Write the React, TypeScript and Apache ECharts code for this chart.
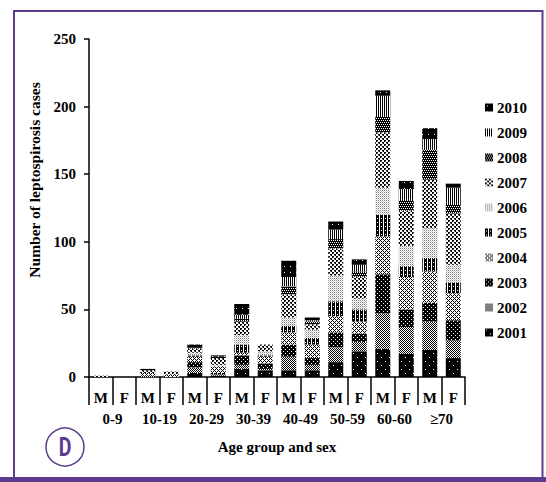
import React, { useEffect, useRef } from "react";
import * as echarts from "echarts";

const sexLabels = ["M", "F", "M", "F", "M", "F", "M", "F", "M", "F", "M", "F", "M", "F", "M", "F"];
const ageGroups = ["0-9", "10-19", "20-29", "30-39", "40-49", "50-59", "60-60", "≥70"];
const years = ["2001", "2002", "2003", "2004", "2005", "2006", "2007", "2008", "2009", "2010"];

const y2001 = [0, 0, 0, 0, 3, 1, 6, 5, 5, 5, 11, 19, 21, 17, 20, 14];
const y2002 = [0, 0, 1, 0, 4, 1, 3, 1, 10, 4, 11, 7, 26, 20, 21, 13];
const y2003 = [0, 0, 0, 0, 4, 1, 7, 4, 9, 5, 11, 6, 29, 13, 14, 15];
const y2004 = [0, 0, 2, 2, 4, 5, 2, 5, 9, 10, 12, 9, 28, 24, 23, 20];
const y2005 = [0, 0, 0, 0, 1, 0, 6, 1, 5, 5, 11, 9, 16, 8, 10, 8];
const y2006 = [0, 0, 0, 0, 2, 1, 7, 3, 6, 6, 19, 8, 20, 15, 22, 13];
const y2007 = [1, 0, 2, 2, 3, 5, 10, 5, 17, 4, 20, 16, 41, 26, 36, 38];
const y2008 = [0, 0, 0, 0, 1, 1, 2, 0, 6, 2, 7, 4, 12, 8, 22, 7];
const y2009 = [0, 0, 0, 0, 0, 0, 3, 0, 7, 1, 7, 5, 15, 8, 8, 12];
const y2010 = [0, 0, 1, 0, 2, 1, 8, 0, 12, 2, 6, 4, 4, 6, 8, 3];

const yearValues = [y2001, y2002, y2003, y2004, y2005, y2006, y2007, y2008, y2009, y2010];

const yTicks = { min: 0, max: 250, interval: 50 };

const tiles: string[][] = [
  ["########", "#.######", "########", "########", "########", "#####.##", "########", "########"],
  ["#.#.", ".#.#", "#.#.", ".#.#"],
  ["####", "#.##", "####", "###."],
  ["#...", ".#.#", "..#.", ".#.#"],
  ["###.", "###.", "#.#.", "###."],
  ["g.g.", ".l.l", "g.g.", ".l.l"],
  ["##..", "#g..", "..##", "..g#"],
  ["#.#.", "####", ".#.#", "####"],
  ["#.", "#."],
  ["######", "######", "##.###", "######", "######", "######"],
];

const PURPLE = "#5c3a8d";
const SERIF = "'Liberation Serif', 'Times New Roman', serif";

function makePattern(rows: string[]) {
  const h = rows.length;
  const w = rows[0].length;
  const c = document.createElement("canvas");
  c.width = w;
  c.height = h;
  const ctx = c.getContext("2d")!;
  const map: Record<string, string> = { "#": "#000000", ".": "#ffffff", g: "#808080", l: "#cccccc", d: "#404040" };
  for (let y = 0; y < h; y++) {
    for (let x = 0; x < w; x++) {
      ctx.fillStyle = map[rows[y][x]] || "#ffffff";
      ctx.fillRect(x, y, 1, 1);
    }
  }
  return { image: c, repeat: "repeat", imageWidth: w, imageHeight: h } as any;
}

export default function App() {
  const ref = useRef<HTMLDivElement>(null);
  useEffect(() => {
    if (!ref.current) return;
    const chart = echarts.init(ref.current, undefined, { renderer: "svg" });
    const series = years.map((yr, i) => ({
      name: yr,
      type: "bar",
      stack: "total",
      xAxisIndex: 0,
      barWidth: 15,
      data: yearValues[i],
      itemStyle: { color: makePattern(tiles[i]) },
      emphasis: { disabled: true },
    }));
    const txt = { fontFamily: SERIF, fontWeight: "bold", fontSize: 15, color: "#000" };
    const option: any = {
      animation: false,
      backgroundColor: "#ffffff",
      grid: { left: 89, right: 81, top: 39, bottom: 105, containLabel: false },
      legend: {
        orient: "vertical",
        left: 485,
        top: 100,
        itemWidth: 8,
        itemHeight: 8,
        itemGap: 10,
        padding: 0,
        icon: "rect",
        data: years.slice().reverse(),
        textStyle: { ...txt, padding: [0, 0, 0, -1] },
      },
      xAxis: [
        {
          type: "category",
          data: sexLabels,
          position: "bottom",
          axisLine: { show: true, lineStyle: { color: "#000", width: 1.5 } },
          axisTick: { show: true, interval: 0, length: 28, lineStyle: { color: "#000", width: 1.5 } },
          axisLabel: { interval: 0, margin: 13, ...txt },
          splitLine: { show: false },
        },
        {
          type: "category",
          data: ageGroups,
          position: "bottom",
          axisLine: { show: false },
          axisTick: { show: false },
          axisLabel: { interval: 0, margin: 34, ...txt },
          splitLine: { show: false },
          name: "Age group and sex",
          nameLocation: "middle",
          nameGap: 62,
          nameTextStyle: txt,
        },
      ],
      yAxis: {
        type: "value",
        min: yTicks.min,
        max: yTicks.max,
        interval: yTicks.interval,
        axisLine: { show: true, lineStyle: { color: "#000", width: 1.5 } },
        axisTick: { show: true, length: 5, lineStyle: { color: "#000", width: 1.5 } },
        splitLine: { show: false },
        axisLabel: { margin: 13, ...txt },
      },
      series,
      graphic: [
        { type: "line", shape: { x1: 14, y1: 11, x2: 542.5, y2: 11 }, style: { stroke: PURPLE, lineWidth: 2 } },
        { type: "line", shape: { x1: 14, y1: 10, x2: 14, y2: 478 }, style: { stroke: PURPLE, lineWidth: 2 } },
        { type: "line", shape: { x1: 542.5, y1: 10, x2: 542.5, y2: 478 }, style: { stroke: PURPLE, lineWidth: 2 } },
        { type: "rect", shape: { x: 0, y: 477, width: 546, height: 5 }, style: { fill: PURPLE } },
        {
          type: "text",
          x: 34,
          y: 180,
          rotation: Math.PI / 2,
          style: {
            text: "Number of leptospirosis cases",
            fill: "#000",
            font: "bold 15.5px " + SERIF,
            align: "center",
            verticalAlign: "middle",
          },
        },
        { type: "circle", shape: { cx: 65, cy: 447, r: 19 }, style: { fill: "#fff", stroke: PURPLE, lineWidth: 1.5 } },
        {
          type: "text",
          x: 65,
          y: 448,
          scaleX: 0.75,
          style: {
            text: "D",
            fill: PURPLE,
            font: "bold 26px 'Roboto', 'Liberation Sans', sans-serif",
            align: "center",
            verticalAlign: "middle",
          },
        },
      ],
    };
    chart.setOption(option);
    return () => chart.dispose();
  }, []);
  return (
    <div
      ref={ref}
      style={{ position: "fixed", left: 0, top: 0, width: 546, height: 482, background: "#fff" }}
    />
  );
}
